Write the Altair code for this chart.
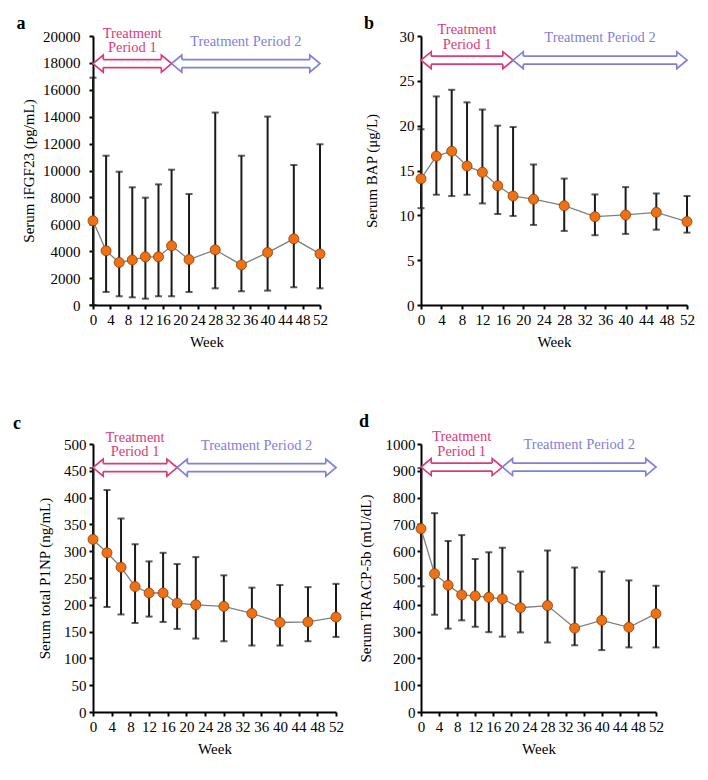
import altair as alt
import pandas as pd

# ---------------- data ----------------
weeks = [0, 3, 6, 9, 12, 15, 18, 22, 28, 34, 40, 46, 52]

fgf_mean = [6260, 4030, 3160, 3350, 3580, 3580, 4400, 3380, 4100, 2980, 3900, 4920, 3800]
fgf_upper = [16900, 11100, 9910, 8750, 7980, 8970, 10060, 8250, 14310, 11100, 14010, 10410, 11950]
fgf_lower = [0, 970, 650, 570, 470, 650, 650, 970, 1240, 1020, 1070, 1320, 1240]

bap_mean = [14.07, 16.6, 17.15, 15.5, 14.8, 13.3, 12.15, 11.8, 11.07, 9.85, 10.04, 10.33, 9.3]
bap_upper = [19.6, 23.26, 24.0, 22.6, 21.8, 20.0, 19.85, 15.67, 14.1, 12.33, 13.15, 12.44, 12.15]
bap_lower = [10.8, 12.3, 12.15, 12.3, 11.33, 10.15, 9.93, 8.93, 8.26, 7.78, 7.93, 8.4, 8.07]

p1np_mean = [322, 297, 270, 234, 222, 222, 203, 200, 197, 184, 167, 168, 177]
p1np_upper = [455, 414, 361, 313, 281, 297, 276, 289, 255, 232, 237, 233, 239]
p1np_lower = [213, 196, 182, 166, 178, 168, 155, 137, 132, 124, 124, 132, 140]

tracp_mean = [684, 516, 473, 437, 433, 428, 422, 389, 397, 313, 342, 316, 367]
tracp_upper = [910, 742, 638, 660, 571, 596, 613, 524, 603, 539, 524, 491, 471]
tracp_lower = [469, 363, 311, 342, 318, 298, 281, 297, 259, 249, 231, 241, 241]

period_names = ["Treatment Period 1", "Treatment Period 2"]
period_labels = ["Treatment\nPeriod 1", "Treatment Period 2"]
period_start = [0, 18]
period_end = [18, 52]
period_colors = ["#dc3a7a", "#7f7fdc"]

x_ticks = list(range(0, 53, 4))

FONT = "Liberation Serif"
RIGHT_HEAD = "M -1.2 -0.47 L -1.2 -1 L 0 0 L -1.2 1 L -1.2 0.47"
LEFT_HEAD = "M 1.2 -0.47 L 1.2 -1 L 0 0 L 1.2 1 L 1.2 0.47"


def panel(letter, ytitle, mean, lower, upper, ymax, ystep, level, width, height,
          letter_x, letter_y, title_x, label_pad):
    df = pd.DataFrame({"week": weeks, "mean": mean, "lower": lower, "upper": upper})
    arrows = pd.DataFrame({
        "period": period_names,
        "label": period_labels,
        "start": period_start,
        "end": period_end,
        "level": [level] * len(period_names),
    })
    arrows["mid"] = (arrows["start"] + arrows["end"]) / 2

    xscale = alt.Scale(domain=[0, 52], nice=False, zero=False)
    yscale = alt.Scale(domain=[0, ymax], nice=False)
    xaxis = alt.Axis(values=x_ticks, title="Week", labelOverlap=False, labelFlush=False,
                     labelPadding=3, titlePadding=7)
    yvals = [round(i * ystep, 6) for i in range(int(round(ymax / ystep)) + 1)]
    yaxis = alt.Axis(values=yvals, title=ytitle, format="d", labelPadding=label_pad,
                     titleX=title_x, titleY=height / 2, titleAngle=270,
                     titleAlign="center", titleBaseline="middle")
    pcolor = alt.Scale(domain=period_names, range=period_colors)

    def X(f):
        return alt.X(f, type="quantitative", scale=xscale, axis=xaxis)

    def Y(f):
        return alt.Y(f, type="quantitative", scale=yscale, axis=yaxis)

    base = alt.Chart(df)
    bars = base.mark_rule(color="#1a1a1a", strokeWidth=2).encode(x=X("week"), y=Y("lower"), y2="upper")
    cap_hi = base.mark_tick(orient="horizontal", size=7, thickness=2, color="#1a1a1a").encode(x=X("week"), y=Y("upper"))
    cap_lo = base.mark_tick(orient="horizontal", size=7, thickness=2, color="#1a1a1a").encode(x=X("week"), y=Y("lower"))
    line = base.mark_line(color="#808080", strokeWidth=1.3).encode(x=X("week"), y=Y("mean"))
    pts = base.mark_point(filled=True, size=100, fill="#f07014", stroke="#8a3d00",
                          strokeWidth=0.8, opacity=1).encode(x=X("week"), y=Y("mean"))

    ab = alt.Chart(arrows)
    col = alt.Color("period:N", scale=pcolor, legend=None)
    stk = alt.Stroke("period:N", scale=pcolor, legend=None)
    shaft_top = ab.mark_rule(strokeWidth=1.7, yOffset=-4, xOffset=10, x2Offset=-10).encode(
        x=X("start"), x2="end", y=Y("level"), color=col)
    shaft_bot = ab.mark_rule(strokeWidth=1.7, yOffset=4, xOffset=10, x2Offset=-10).encode(
        x=X("start"), x2="end", y=Y("level"), color=col)
    head_r = ab.mark_point(shape=RIGHT_HEAD, size=289, filled=True, fill="white",
                           strokeWidth=1.7, opacity=1).encode(x=X("end"), y=Y("level"), stroke=stk)
    head_l = ab.mark_point(shape=LEFT_HEAD, size=289, filled=True, fill="white",
                           strokeWidth=1.7, opacity=1).encode(x=X("start"), y=Y("level"), stroke=stk)
    label1 = ab.transform_filter(alt.datum.period == period_names[0]).mark_text(
        font=FONT, fontSize=14.5, dy=-30, baseline="middle", align="center",
        lineBreak="\n", lineHeight=14.5).encode(x=X("mid"), y=Y("level"), text="label:N", color=col)
    label2 = ab.transform_filter(alt.datum.period == period_names[1]).mark_text(
        font=FONT, fontSize=14.5, dy=-22, baseline="middle", align="center").encode(
        x=X("mid"), y=Y("level"), text="label:N", color=col)

    let = alt.Chart(pd.DataFrame({"t": [letter]})).mark_text(
        font=FONT, fontSize=18, fontWeight="bold", align="center", baseline="middle", color="black"
    ).encode(text="t:N", x=alt.value(letter_x), y=alt.value(letter_y))

    return alt.layer(bars, cap_hi, cap_lo, line, pts, shaft_top, shaft_bot, head_r, head_l,
                     label1, label2, let).properties(width=width, height=height)


pa = panel("a", "Serum iFGF23 (pg/mL)", fgf_mean, fgf_lower, fgf_upper, 20000, 2000, 17950,
           227, 269, -72, -12, -65, 9)
pb = panel("b", "Serum BAP (μg/L)", bap_mean, bap_lower, bap_upper, 30, 5, 27.3,
           266, 269, -52, -12, -50, 3)
pc = panel("c", "Serum total P1NP (ng/mL)", p1np_mean, p1np_lower, p1np_upper, 500, 50, 456,
           243, 268, -76, -20, -49, 3)
pd_ = panel("d", "Serum TRACP-5b (mU/dL)", tracp_mean, tracp_lower, tracp_upper, 1000, 100, 914,
            235, 268, -57, -22, -56, 2)

chart = alt.concat(pa, pb, pc, pd_, columns=2, spacing={"row": 139, "column": 85},
                   bounds="flush", padding={"left": 5, "top": 7, "right": 5, "bottom": 5}
                   ).configure_view(stroke=None).configure_axis(
    grid=False, domainColor="black", domainWidth=2, tickColor="black", tickWidth=2, tickSize=4,
    labelFont=FONT, titleFont=FONT, labelFontSize=15, titleFontSize=15,
    labelColor="black", titleColor="black", titleFontWeight="normal"
)

chart.save("out.html", embed_options={"renderer": "svg", "actions": False})
